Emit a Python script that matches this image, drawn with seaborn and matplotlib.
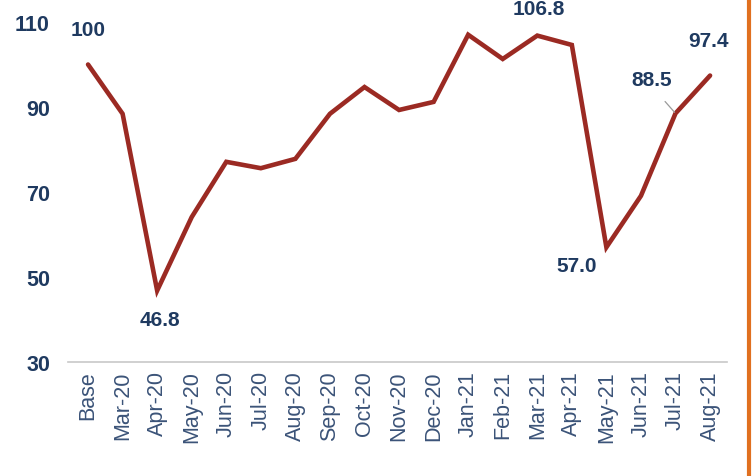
import matplotlib
matplotlib.use("Agg")
import matplotlib.pyplot as plt
import seaborn as sns
import pandas as pd
from matplotlib.lines import Line2D

categories = ["Base", "Mar-20", "Apr-20", "May-20", "Jun-20", "Jul-20", "Aug-20",
              "Sep-20", "Oct-20", "Nov-20", "Dec-20", "Jan-21", "Feb-21", "Mar-21",
              "Apr-21", "May-21", "Jun-21", "Jul-21", "Aug-21"]
values = [100, 88.4, 46.8, 64.1, 77.1, 75.6, 77.8, 88.4, 94.7, 89.3, 91.2,
          107.0, 101.3, 106.8, 104.6, 57.0, 69.1, 88.5, 97.4]
y_ticks = [30, 50, 70, 90, 110]
labels_shown = {"Base": "100", "Apr-20": "46.8", "Mar-21": "106.8",
                "May-21": "57.0", "Jul-21": "88.5", "Aug-21": "97.4"}

df = pd.DataFrame({"idx": range(len(categories)), "month": categories, "value": values})

sns.set_theme(style="white")
NAVY = "#1f3a60"
LINE = "#9b2a23"
narrow = ["Liberation Sans Narrow", "Liberation Sans", "DejaVu Sans"]
plt.rcParams["font.family"] = ["Liberation Sans", "DejaVu Sans"]

fig = plt.figure(figsize=(7.52, 4.77), dpi=100)
ax = fig.add_axes([68 / 752, 1 - 363 / 477, 659 / 752, 340 / 477])

sns.lineplot(data=df, x="idx", y="value", ax=ax, color=LINE, linewidth=3.3,
             solid_joinstyle="miter", clip_on=False)

ax.set_xlim(-0.58, 18.49)
ax.set_ylim(30, 110)
ax.set_yticks(y_ticks)
ax.set_yticklabels([str(v) for v in y_ticks], family=narrow, fontweight="bold",
                   fontsize=15.5, color=NAVY)
ax.set_xticks(range(len(categories)))
ax.set_xticklabels(categories, rotation=90, fontsize=15.5, color="#3b5378", va="top")
ax.tick_params(axis="y", length=0, pad=13)
ax.tick_params(axis="x", length=0, pad=6)
ax.set_xlabel("")
ax.set_ylabel("")
for s in ["top", "right", "left"]:
    ax.spines[s].set_visible(False)
ax.spines["bottom"].set_color("#c8c8c8")
ax.spines["bottom"].set_linewidth(1.2)

offsets = {
    "Base": (0, 25, None),
    "Apr-20": (2, -21, None),
    "Mar-21": (1, 19.5, None),
    "May-21": (-21.5, -13.5, None),
    "Jul-21": (-17, 24.5, "leader"),
    "Aug-21": (-1, 25, None),
}
for i, m in enumerate(categories):
    if m not in labels_shown:
        continue
    dx, dy, kind = offsets[m]
    kw = {}
    if kind == "leader":
        kw["arrowprops"] = dict(arrowstyle="-", color="#9a9a9a", lw=0.9,
                                shrinkA=9, shrinkB=1, relpos=(0.55, 0.0))
    ax.annotate(labels_shown[m], xy=(i, values[i]), xytext=(dx, dy),
                textcoords="offset points", ha="center", va="center",
                family=narrow, fontweight="bold", fontsize=15, color=NAVY,
                annotation_clip=False, **kw)

fig.add_artist(Line2D([748.5 / 752, 748.5 / 752], [0, 1], transform=fig.transFigure,
                      color="#e07020", linewidth=3))

fig.savefig("out.png", dpi=100, facecolor="white")
